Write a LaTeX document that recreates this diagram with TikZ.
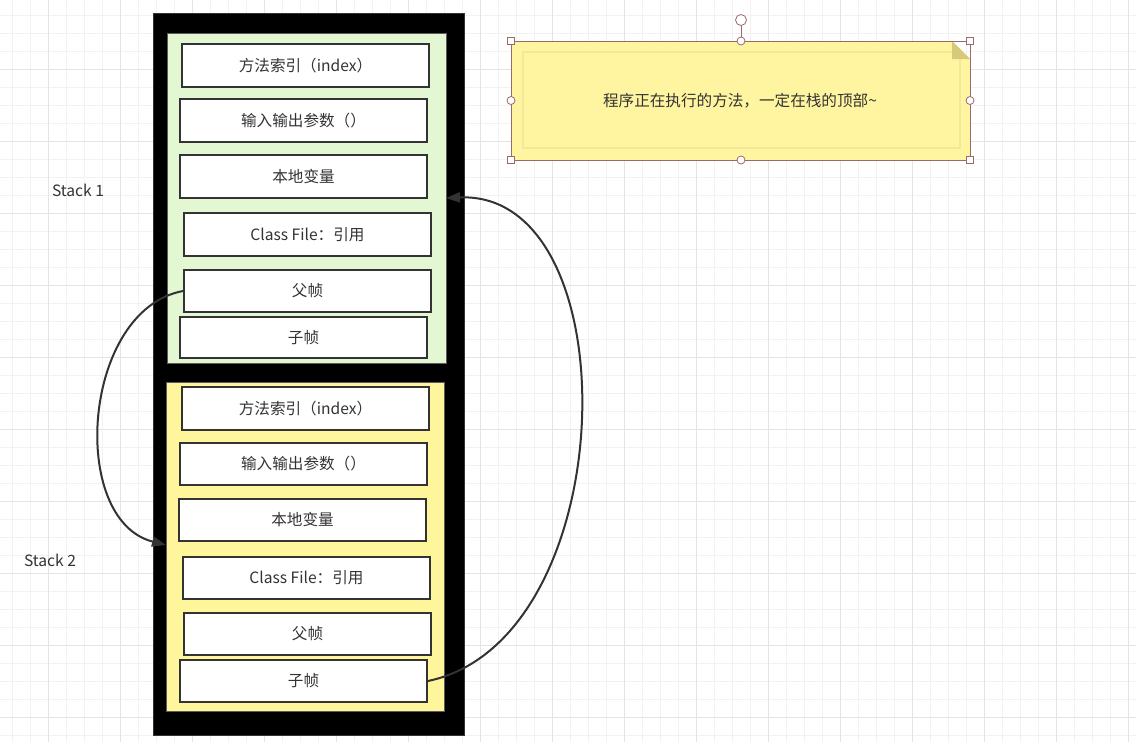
\documentclass[tikz,border=0pt]{standalone}
\usepackage{fontspec}
\setmainfont{Noto Sans CJK SC}
\usetikzlibrary{arrows.meta}
\definecolor{gridminor}{HTML}{F2F2F2}
\definecolor{gridmajor}{HTML}{E4E4E4}
\definecolor{txt}{HTML}{333333}
\definecolor{greenfill}{HTML}{E3F7D3}
\definecolor{yellowfill}{HTML}{FFF59A}
\definecolor{notefill}{HTML}{FFF5A0}
\definecolor{noteinner}{HTML}{F3E89A}
\definecolor{notefold}{HTML}{D6C97A}
\definecolor{handle}{HTML}{9A6A6A}
\definecolor{conncol}{HTML}{333333}
\tikzset{
  fbox/.style={draw=txt, line width=2pt, fill=white, text=txt, inner sep=0pt,
    font=\fontsize{15.6}{18}\selectfont, minimum width=247pt},
  panel/.style={draw=txt!80, line width=1pt, inner sep=0pt},
  conn/.style={draw=conncol, line width=2pt, -{Triangle[length=14pt,width=10pt]}},
  lbl/.style={text=txt, font=\fontsize{15.6}{18}\selectfont, inner sep=0pt},
  hsq/.style={draw=handle, fill=white, line width=0.8pt, minimum size=7pt, inner sep=0pt},
  hci/.style={draw=handle, fill=white, line width=0.8pt, circle, minimum size=8pt, inner sep=0pt}
}
\begin{document}
\begin{tikzpicture}[x=1pt,y=-1pt]
\useasboundingbox (0,0) rectangle (1136,742);
\fill[white] (0,0) rectangle (1136,742);
% grid
\foreach \x in {12,30,...,1136} \draw[gridminor, line width=0.8pt] (\x,0) -- (\x,742);
\foreach \y in {15,33,...,742} \draw[gridminor, line width=0.8pt] (0,\y) -- (1136,\y);
\foreach \x in {48,120,...,1136} \draw[gridmajor, line width=0.8pt] (\x,0) -- (\x,742);
\foreach \y in {69,141,...,742} \draw[gridmajor, line width=0.8pt] (0,\y) -- (1136,\y);

% outer black frame
\node[fill=black, draw=txt, minimum width=311pt, minimum height=722pt, inner sep=0pt] (frame) at (308.5,374) {};
% panels
\node[panel, fill=greenfill, minimum width=279pt, minimum height=330pt] (p1) at (306.5,198) {};
\node[panel, fill=yellowfill, minimum width=278pt, minimum height=329pt] (p2) at (305,546.5) {};

% stack 1 boxes
\node[fbox, minimum height=43pt] (a1) at (305.5,65.5) {方法索引（index）};
\node[fbox, minimum height=43pt] (a2) at (303.5,120.5) {输入输出参数（）};
\node[fbox, minimum height=43pt] (a3) at (303.5,176.5) {本地变量};
\node[fbox, minimum height=43pt] (a4) at (307.5,234.5) {Class File：引用};
\node[fbox, minimum height=42pt] (a5) at (307.5,291) {父帧};
\node[fbox, minimum height=41pt] (a6) at (303.5,337.5) {子帧};
% stack 2 boxes
\node[fbox, minimum height=43pt] (b1) at (305.5,408.5) {方法索引（index）};
\node[fbox, minimum height=42pt] (b2) at (303.5,464) {输入输出参数（）};
\node[fbox, minimum height=42pt] (b3) at (302.5,520) {本地变量};
\node[fbox, minimum height=42pt] (b4) at (306.5,578) {Class File：引用};
\node[fbox, minimum height=42pt] (b5) at (307.5,634) {父帧};
\node[fbox, minimum height=42pt] (b6) at (303.5,681) {子帧};

% labels
\node[lbl] (s1) at (78,190) {Stack 1};
\node[lbl] (s2) at (50,560) {Stack 2};

% connectors
\coordinate (in1) at (446,198);
\coordinate (in2) at (166,545);
\draw[conn] (a5.west) .. controls (82,310) and (68,520) .. (in2);
\draw[conn] (b6.east) .. controls (624,640) and (632,190) .. (in1);

% sticky note
\fill[notefill] (511,41) -- (952,41) -- (970,59) -- (970,160) -- (511,160) -- cycle;
\draw[noteinner, line width=2.5pt] (523,52) rectangle (960,148);
\fill[notefold] (952,41) -- (970,59) -- (952,59) -- cycle;
\node[lbl] (note) at (740,101) {程序正在执行的方法，一定在栈的顶部\textasciitilde};
% selection handles
\draw[handle, line width=0.8pt] (511,41) rectangle (970,160);
\node[hci, minimum size=11pt] (rot) at (741,20) {};
\draw[handle, line width=1pt] (rot) -- (741,41);
\node[hsq] (h1) at (511,41) {};
\node[hsq] (h2) at (970,41) {};
\node[hsq] (h3) at (511,160) {};
\node[hsq] (h4) at (970,160) {};
\node[hci] (h5) at (741,41) {};
\node[hci] (h6) at (511,100.5) {};
\node[hci] (h7) at (970,100.5) {};
\node[hci] (h8) at (741,160) {};
\end{tikzpicture}
\end{document}
